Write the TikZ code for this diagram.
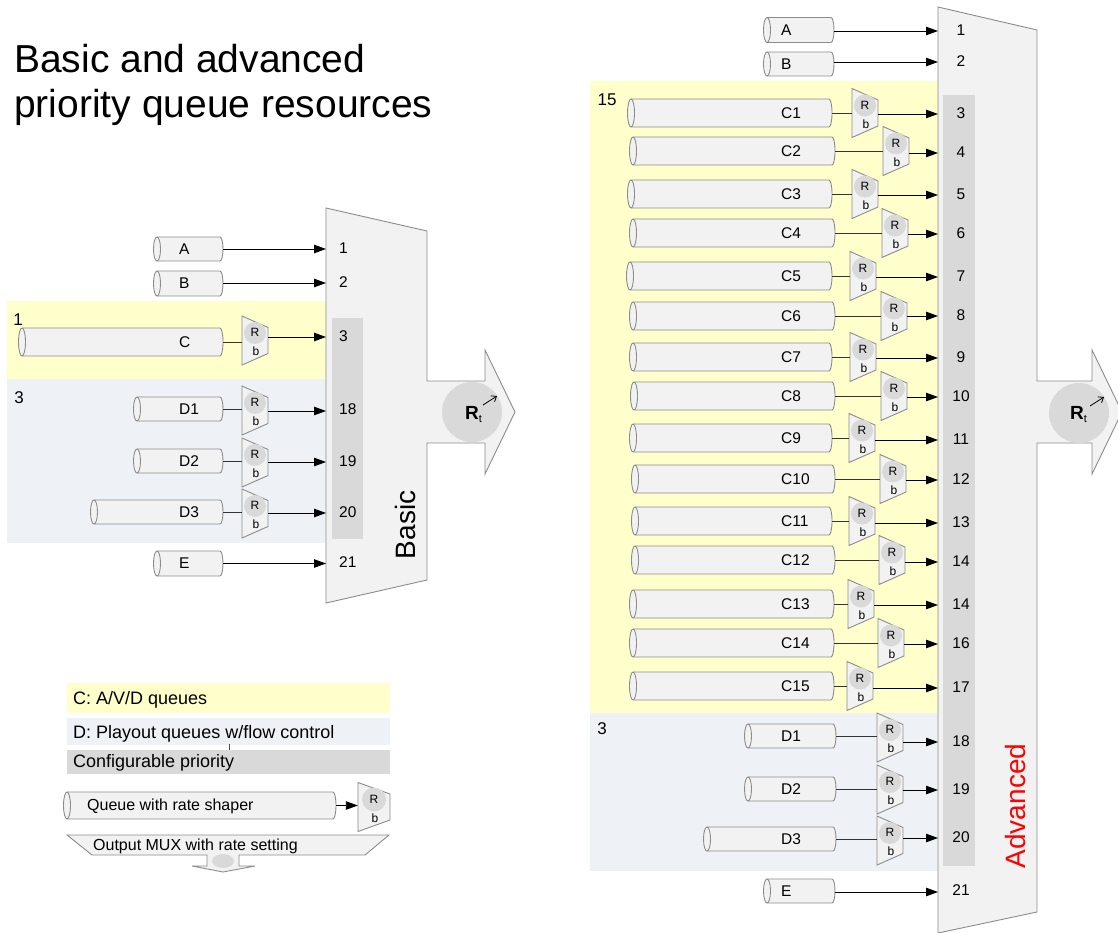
\documentclass[tikz,border=0pt]{standalone}
\usepackage{fontspec}
\setmainfont{Liberation Sans}
\usetikzlibrary{arrows.meta}
\definecolor{bandY}{HTML}{FFFFCC}
\definecolor{bandB}{HTML}{EEF1F6}
\definecolor{barG}{HTML}{D9D9D9}
\definecolor{muxF}{HTML}{F2F2F2}
\definecolor{edgeG}{HTML}{8C8C8C}
\definecolor{circG}{HTML}{D9D9D9}
\newcommand{\fs}[1]{\fontsize{#1}{#1}\selectfont}
\tikzset{
  mux/.style={fill=muxF, draw=edgeG, line width=0.9pt, line join=miter},
  qbody/.style={fill=muxF, draw=edgeG, line width=0.9pt},
  qedge/.style={draw=edgeG, line width=0.9pt},
  shp/.style={fill=muxF, draw=edgeG, line width=0.9pt},
  rb/.style={font=\fs{12}, inner sep=0},
  lbl/.style={font=\fs{15.5}, inner sep=0},
  numlbl/.style={font=\fs{15.5}, inner sep=0},
  bandlbl/.style={font=\fs{17}, inner sep=0},
  qline/.style={draw=black!80, line width=0.9pt},
  arr/.style={draw=black, line width=0.9pt, -{Triangle[length=12pt,width=8.5pt]}},
  rtarr/.style={draw=black, line width=0.8pt, -{Straight Barb[length=4.5pt,width=7pt]}},
}
% queue: name, x1, x2, yc, half height
\newcommand{\queue}[5]{%
  \filldraw[qbody] (#2,-#4+#5) -- ({#3-3},-#4+#5) arc[start angle=90,end angle=-90,x radius=3,y radius=#5] -- (#2,-#4-#5) arc[start angle=270,end angle=90,x radius=3.5,y radius=#5] -- cycle;
  \draw[qedge] (#2,-#4+#5) arc[start angle=90,end angle=-90,x radius=3.5,y radius=#5];
  \node[inner sep=0, minimum width={#3-#2}, minimum height={2*#5}, anchor=east] (#1) at (#3,-#4) {};
}
% shaper: name, x, yc, width, circle radius
\newcommand{\shaper}[5]{%
  \filldraw[shp] (#2,-#3+24.5) -- ({#2+#4},-#3+13) -- ({#2+#4},-#3-13) -- (#2,-#3-24.5) -- cycle;
  \fill[circG] ({#2+#4/2},-#3+7.5) circle[radius=#5];
  \node[rb] (#1R) at ({#2+#4/2},-#3+8) {R};
  \node[rb] (#1b) at ({#2+#4/2+1},-#3-11) {b};
  \node[inner sep=0, minimum width=#4, minimum height=26] (#1) at ({#2+#4/2},-#3) {};
}
\begin{document}
\begin{tikzpicture}[x=1pt,y=1pt]
\useasboundingbox (0,0) rectangle (1118,-933);
\fill[white] (0,0) rectangle (1118,-933);

% ---------- title ----------
\node[anchor=base west, font=\fs{39}, inner sep=0] (t1) at (14,-73) {Basic and advanced};
\node[anchor=base west, font=\fs{39}, inner sep=0] (t2) at (14,-118) {priority queue resources};

% ---------- bands ----------
\fill[bandY] (7,-301) rectangle (326,-379);
\fill[bandB] (7,-379) rectangle (326,-543);
\fill[bandY] (590,-81) rectangle (938,-713);
\fill[bandB] (590,-713) rectangle (938,-871);
\node[bandlbl] (bl1) at (18,-320) {1};
\node[bandlbl] (bl2) at (19,-398) {3};
\node[bandlbl] (bl3) at (607,-100) {15};
\node[bandlbl] (bl4) at (602,-729) {3};

% ---------- MUX shapes ----------
\filldraw[mux] (326,-208) -- (427,-231) -- (427,-381) -- (485,-381) -- (485,-350) -- (515,-412) -- (485,-474) -- (485,-443) -- (427,-443) -- (427,-580) -- (326,-603) -- cycle;
\filldraw[mux] (938,-7) -- (1037,-30) -- (1037,-381) -- (1092,-381) -- (1092,-350) -- (1122,-412) -- (1092,-474) -- (1092,-443) -- (1037,-443) -- (1037,-912) -- (938,-933) -- cycle;
\fill[barG] (332,-318) rectangle (363,-539);
\fill[barG] (943,-95) rectangle (975,-866);

\node[rotate=90, font=\fs{28}, inner sep=0] (basic) at (405,-525) {Basic};
\node[rotate=90, font=\fs{28}, text=red, inner sep=0] (adv) at (1015,-806) {Advanced};

% Rt circles
\node[circle, fill=circG, minimum size=60, inner sep=0] (rtL) at (472,-412) {};
\node[anchor=base west, font=\fs{19}\bfseries, inner sep=0] (rtLt) at (465,-419) {R\raisebox{-3pt}{\fs{11}\mdseries t}};
\draw[rtarr] (483,-405) -- (497,-396);
\node[circle, fill=circG, minimum size=60, inner sep=0] (rtR) at (1079,-413) {};
\node[anchor=base west, font=\fs{19}\bfseries, inner sep=0] (rtRt) at (1070,-419) {R\raisebox{-3pt}{\fs{11}\mdseries t}};
\draw[rtarr] (1090,-406) -- (1104,-397);

% ---------- basic (left) ----------
\queue{qA}{157}{223}{249}{12}
\queue{qB}{157}{223}{283.5}{12.5}
\queue{qC}{22}{223}{342}{14}
\queue{qD1}{137}{223}{409}{12}
\queue{qD2}{137}{223}{461}{12}
\queue{qD3}{94}{223}{512}{12}
\queue{qE}{157}{223}{563.5}{12.5}
\node[lbl, anchor=west] (lA) at (179,-249) {A};
\node[lbl, anchor=west] (lB) at (179,-283.5) {B};
\node[lbl, anchor=west] (lC) at (179,-342) {C};
\node[lbl, anchor=west] (lD1) at (179,-409) {D1};
\node[lbl, anchor=west] (lD2) at (179,-461) {D2};
\node[lbl, anchor=west] (lD3) at (179,-512) {D3};
\node[lbl, anchor=west] (lE) at (179,-563.5) {E};

\shaper{sC}{242}{340.5}{26}{11}
\shaper{sD1}{242}{410.5}{26}{11}
\shaper{sD2}{242}{462.5}{26}{11}
\shaper{sD3}{242}{513.5}{26}{11}

\coordinate (iA) at (326,-249);
\coordinate (iB) at (326,-283);
\coordinate (iC) at (326,-337);
\coordinate (iD1) at (326,-411);
\coordinate (iD2) at (326,-462);
\coordinate (iD3) at (326,-513);
\coordinate (iE) at (326,-563.5);

\draw[arr] (qA.east) -- (iA);
\draw[arr] (qB.east |- iB) -- (iB);
\draw[qline] (qC.east) -- (qC.east -| sC.west);
\draw[arr] (sC.east |- iC) -- (iC);
\draw[qline] (qD1.east) -- (qD1.east -| sD1.west);
\draw[arr] (sD1.east |- iD1) -- (iD1);
\draw[qline] (qD2.east) -- (qD2.east -| sD2.west);
\draw[arr] (sD2.east |- iD2) -- (iD2);
\draw[qline] (qD3.east) -- (qD3.east -| sD3.west);
\draw[arr] (sD3.east |- iD3) -- (iD3);
\draw[arr] (qE.east) -- (iE);

\node[numlbl, anchor=west] (n1) at (339,-248) {1};
\node[numlbl, anchor=west] (n2) at (339,-282) {2};
\node[numlbl, anchor=west] (n3) at (339,-336) {3};
\node[numlbl, anchor=west] (n18) at (339,-409) {18};
\node[numlbl, anchor=west] (n19) at (339,-461) {19};
\node[numlbl, anchor=west] (n20) at (339,-512) {20};
\node[numlbl, anchor=west] (n21) at (339,-562) {21};

% ---------- advanced (right) ----------
\queue{rqA}{767}{834}{30}{12.5}
\queue{rqB}{767}{834}{64}{12}
\node[lbl, anchor=west] (rlA) at (781,-30) {A};
\node[lbl, anchor=west] (rlB) at (781,-64) {B};
\coordinate (riA) at (938,-31);
\coordinate (riB) at (938,-62);
\draw[arr] (rqA.east |- riA) -- (riA);
\draw[arr] (rqB.east |- riB) -- (riB);
\node[numlbl] (rn1) at (961,-30) {1};
\node[numlbl] (rn2) at (961,-61) {2};

\foreach \nm/\yc/\sx/\ql/\qr/\num/\ny in {
  C1/113/852/631/832/3/113,
  C2/151/883/633/835/4/152,
  C3/194/852/631/832/5/194,
  C4/233/882/633/835/6/233,
  C5/276/850/630/832/7/276,
  C6/316/881/633/835/8/315,
  C7/357/850/633/832/9/357,
  C8/396/881/634/835/10/396,
  C9/438/849/633/832/11/439,
  C10/479/880/635/835/12/479,
  C11/521/849/635/832/13/522,
  C12/560/879/635/835/14/561,
  C13/604/848/633/834/14/604,
  C14/643/878/633/834/16/643,
  C15/686/847/633/834/17/687}{
  \queue{rq\nm}{\ql}{\qr}{\yc}{14}
  \node[lbl, anchor=west] (rl\nm) at (781,-\yc) {\nm};
  \shaper{rs\nm}{\sx}{\yc}{26}{11}
  \node[numlbl] (rn\nm) at (961,-\ny) {\num};
  \coordinate (ri\nm) at (938,-\ny-1);
  \draw[qline] (rq\nm.east) -- (rq\nm.east -| rs\nm.west);
  \draw[arr] (rs\nm.east |- ri\nm) -- (ri\nm);
}

\queue{rqD1}{748}{836}{736}{12}
\queue{rqD2}{748}{836}{789}{12}
\queue{rqD3}{707}{836}{839}{12}
\queue{rqE}{767}{835}{891}{12}
\node[lbl, anchor=west] (rlD1) at (781,-736) {D1};
\node[lbl, anchor=west] (rlD2) at (781,-789) {D2};
\node[lbl, anchor=west] (rlD3) at (781,-839) {D3};
\node[lbl, anchor=west] (rlE) at (781,-891) {E};
\shaper{rsD1}{877}{737.5}{26}{11}
\shaper{rsD2}{877}{789.5}{26}{11}
\shaper{rsD3}{877}{840.5}{26}{11}
\coordinate (riD1) at (938,-742);
\coordinate (riD2) at (938,-790);
\coordinate (riD3) at (938,-838);
\coordinate (riE) at (938,-892);
\draw[qline] (rqD1.east) -- (rqD1.east -| rsD1.west);
\draw[arr] (rsD1.east |- riD1) -- (riD1);
\draw[qline] (rqD2.east) -- (rqD2.east -| rsD2.west);
\draw[arr] (rsD2.east |- riD2) -- (riD2);
\draw[qline] (rqD3.east) -- (rqD3.east -| rsD3.west);
\draw[arr] (rsD3.east |- riD3) -- (riD3);
\draw[arr] (rqE.east |- riE) -- (riE);
\node[numlbl] (rn18) at (961,-741) {18};
\node[numlbl] (rn19) at (961,-789) {19};
\node[numlbl] (rn20) at (961,-837) {20};
\node[numlbl] (rn21) at (961,-890) {21};

% ---------- legend ----------
\fill[bandY] (67,-683) rectangle (390,-713);
\fill[bandB] (67,-718) rectangle (390,-745);
\fill[barG] (67,-750) rectangle (390,-774);
\draw[black!70, line width=0.6pt] (229,-744) -- (229,-750);
\node[anchor=base west, font=\fs{18}, inner sep=0] (legC) at (73,-704) {C: A/V/D queues};
\node[anchor=base west, font=\fs{18}, inner sep=0] (legD) at (73,-738) {D: Playout queues w/flow control};
\node[anchor=base west, font=\fs{18}, inner sep=0] (legP) at (73,-767) {Configurable priority};

\queue{lq}{67}{336}{805.5}{13.5}
\node[anchor=base west, font=\fs{16}, inner sep=0] (lqt) at (87,-810) {Queue with rate shaper};
\shaper{ls}{358}{807}{32}{12}
\draw[arr] (lq.east) -- (lq.east -| ls.west);

\filldraw[mux] (67,-835) -- (389,-835) -- (365,-855) -- (239,-855) -- (239,-866) -- (255,-866) -- (223,-872) -- (192,-866) -- (207,-866) -- (207,-855) -- (92,-855) -- cycle;
\fill[circG] (223,-861) ellipse[x radius=11, y radius=7];
\node[anchor=base west, font=\fs{16}, inner sep=0] (lmux) at (93,-850) {Output MUX with rate setting};
\end{tikzpicture}
\end{document}
